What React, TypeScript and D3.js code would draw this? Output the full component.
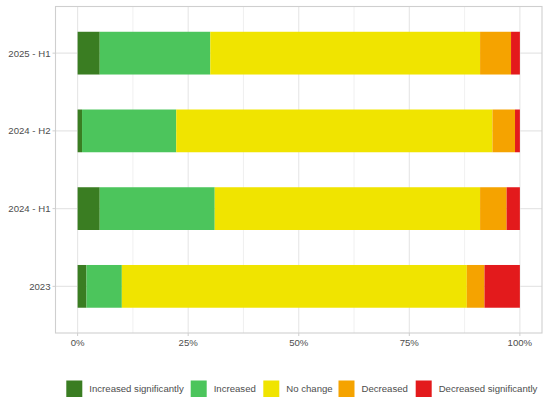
import * as d3 from "d3";

const periods = ["2025 - H1", "2024 - H2", "2024 - H1", "2023"];
const categories = [
  "Increased significantly",
  "Increased",
  "No change",
  "Decreased",
  "Decreased significantly",
];
const colors = ["#3a7d22", "#4cc55c", "#f0e400", "#f5a300", "#e31a1c"];

// percent shares per period, in category order
const incSig = [5, 1, 5, 2];
const inc = [25, 21.3, 26, 8];
const noChange = [61, 71.5, 60, 78];
const dec = [7, 5.1, 6, 4];
const decSig = [2, 1.1, 3, 8];

const xTicks = [0, 25, 50, 75, 100];
const xMinor = [12.5, 37.5, 62.5, 87.5];

const W = 550;
const H = 402;
const m = { t: 6.5, r: 8, b: 69, l: 55.5 };

export default function App() {
  const series = [incSig, inc, noChange, dec, decSig];
  const rows = periods.map((p, i) => {
    const row: Record<string, number | string> = { period: p };
    categories.forEach((c, k) => (row[c] = series[k][i]));
    return row;
  });
  const stacked = d3.stack<Record<string, number | string>>().keys(categories)(rows);

  const x = d3.scaleLinear().domain([-5, 105]).range([m.l, W - m.r]);
  // ggplot-style discrete axis: 0.6 unit padding each end
  const yc = d3
    .scaleLinear()
    .domain([-0.6, periods.length - 1 + 0.6])
    .range([m.t, H - m.b]);
  const bw = (yc(1) - yc(0)) * 0.55;

  const fam = "'Liberation Sans', Arial, sans-serif";
  const textCol = "#4d4d4d";
  const fs = 9.6;

  // legend layout
  const legendX = [66.3, 190.7, 263.3, 338.5, 415.7];
  const legendY = 388.5;

  return (
    <svg width={W} height={H} style={{ position: "absolute", left: 0, top: 0 }} fontFamily={fam}>
      <rect width={W} height={H} fill="#fff" />
      {xMinor.map((t) => (
        <line key={"mn" + t} x1={x(t)} x2={x(t)} y1={m.t} y2={H - m.b} stroke="#ececec" strokeWidth={0.8} />
      ))}
      {xTicks.map((t) => (
        <line key={"mj" + t} x1={x(t)} x2={x(t)} y1={m.t} y2={H - m.b} stroke="#e6e6e6" strokeWidth={1.1} />
      ))}
      {periods.map((p, i) => (
        <line key={"hy" + p} x1={m.l} x2={W - m.r} y1={yc(i)} y2={yc(i)} stroke="#e6e6e6" strokeWidth={1.1} />
      ))}
      {stacked.map((s, k) => (
        <g key={s.key} fill={colors[k]}>
          {s.map((d, i) => (
            <rect key={i} x={x(d[0])} width={x(d[1]) - x(d[0])} y={yc(i) - bw / 2} height={bw} />
          ))}
        </g>
      ))}
      <rect x={m.l} y={m.t} width={W - m.r - m.l} height={H - m.b - m.t} fill="none" stroke="#cfcfcf" strokeWidth={1.1} />
      {periods.map((p, i) => (
        <g key={"yl" + p}>
          <line x1={m.l - 3} x2={m.l} y1={yc(i)} y2={yc(i)} stroke="#cfcfcf" />
          <text x={m.l - 5} y={yc(i)} dy="0.35em" textAnchor="end" fontSize={fs} fill={textCol}>
            {p}
          </text>
        </g>
      ))}
      {xTicks.map((t) => (
        <g key={"xl" + t}>
          <line x1={x(t)} x2={x(t)} y1={H - m.b} y2={H - m.b + 3} stroke="#cfcfcf" />
          <text x={x(t)} y={H - m.b + 10} dy="0.35em" textAnchor="middle" fontSize={fs} fill={textCol}>
            {t + "%"}
          </text>
        </g>
      ))}
      {categories.map((c, k) => (
        <g key={"lg" + c}>
          <rect x={legendX[k]} y={legendY - 8} width={16} height={16.5} fill={colors[k]} />
          <text x={legendX[k] + 23} y={legendY} dy="0.35em" fontSize={fs} fill={textCol}>
            {c}
          </text>
        </g>
      ))}
    </svg>
  );
}
